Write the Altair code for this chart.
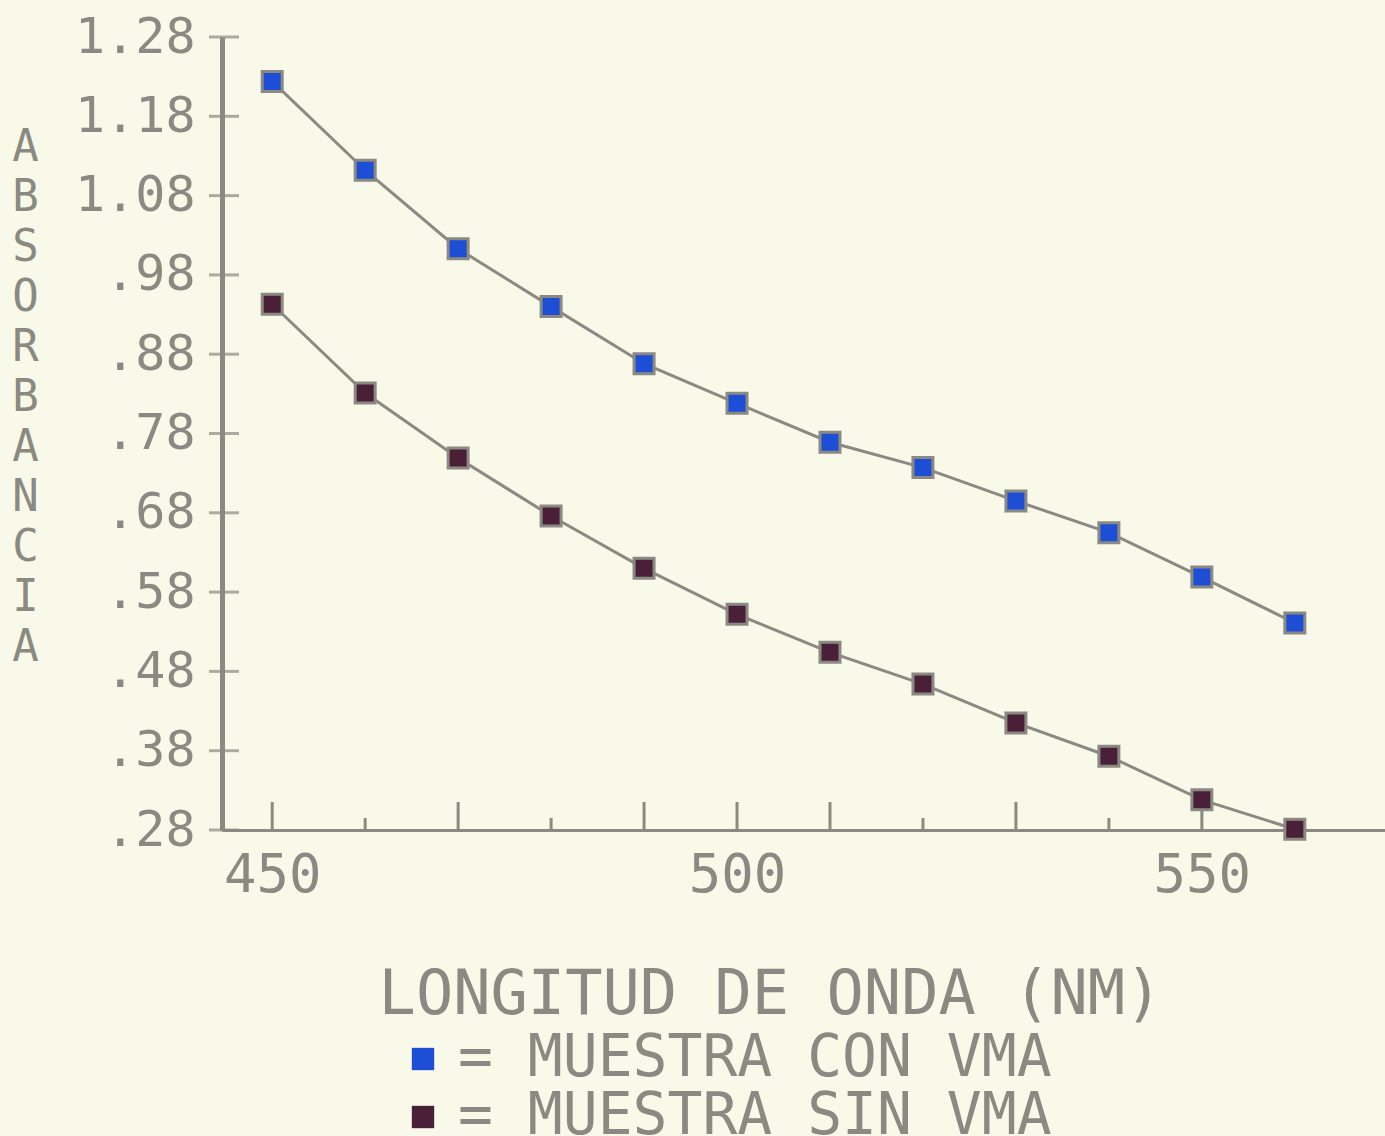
import altair as alt
import pandas as pd

wavelength = [450, 460, 470, 480, 490, 500, 510, 520, 530, 540, 550, 560]
con_vma = [1.224, 1.112, 1.013, 0.940, 0.868, 0.818, 0.769, 0.737, 0.695, 0.655, 0.599, 0.541]
sin_vma = [0.943, 0.831, 0.749, 0.676, 0.610, 0.552, 0.504, 0.464, 0.415, 0.373, 0.318, 0.281]
series_names = ["MUESTRA CON VMA", "MUESTRA SIN VMA"]
series_colors = ["#1f4ed6", "#4a2038"]

y_ticks = [0.28, 0.38, 0.48, 0.58, 0.68, 0.78, 0.88, 0.98, 1.08, 1.18, 1.28]
x_labels = [450, 500, 550]
x_major_ticks = [450, 470, 490, 500, 510, 530, 550]
x_minor_ticks = [460, 480, 520, 540]

rows = []
for w, a in zip(wavelength, con_vma):
    rows.append({"wl": w, "abs": a, "serie": series_names[0]})
for w, a in zip(wavelength, sin_vma):
    rows.append({"wl": w, "abs": a, "serie": series_names[1]})
df = pd.DataFrame(rows)

GRAY = "#8a8a82"
FONT = "DejaVu Sans Mono"
W, H = 1163, 793

xscale = alt.Scale(domain=[444.6, 569.7], nice=False, zero=False)
yscale = alt.Scale(domain=[0.28, 1.28], nice=False, zero=False)

x_enc = alt.X(
    "wl:Q", scale=xscale,
    axis=alt.Axis(
        values=x_labels, ticks=False, grid=False, labelPadding=18,
        labelFontSize=54, labelFont=FONT, labelColor=GRAY,
        domainColor=GRAY, domainWidth=3,
        title="LONGITUD DE ONDA (NM)", titleFont=FONT, titleFontSize=62,
        titleFontWeight="normal", titleColor=GRAY,
        titleX=548, titleY=134, titleAnchor="middle", titleAlign="center",
        titleBaseline="top",
    ),
)
y_enc = alt.Y(
    "abs:Q", scale=yscale,
    axis=alt.Axis(
        values=y_ticks, ticks=False, grid=False, labelPadding=27,
        labelFontSize=50, labelFont=FONT, labelColor=GRAY,
        labelExpr="datum.value >= 1 ? format(datum.value, '.2f') : replace(format(datum.value, '.2f'), '0.', '.')",
        domainColor=GRAY, domainWidth=5,
        title=list("ABSORBANCIA"), titleAngle=0, titleFont=FONT,
        titleFontSize=44, titleFontWeight="normal", titleColor=GRAY,
        titleLineHeight=50, titleX=-197, titleY=88,
        titleAlign="center", titleBaseline="top",
    ),
)

base = alt.Chart(df)

lines = base.mark_line(color=GRAY, strokeWidth=3).encode(
    x=x_enc, y=y_enc, detail="serie:N"
)

points = base.mark_point(
    shape="square", filled=True, size=400, stroke=GRAY, strokeWidth=3, opacity=1
).encode(
    x=alt.X("wl:Q", scale=xscale),
    y=alt.Y("abs:Q", scale=yscale),
    color=alt.Color(
        "serie:N",
        scale=alt.Scale(domain=series_names, range=series_colors),
        legend=alt.Legend(
            title=None, orient="none", legendX=172, legendY=993,
            symbolType="square", symbolSize=500, symbolStrokeWidth=0,
            labelFont=FONT, labelFontSize=58, labelColor=GRAY,
            labelExpr="'= ' + datum.label", labelOffset=6,
            rowPadding=-4, padding=0, labelLimit=1000,
        ),
    ),
)

ytick_df = pd.DataFrame({"v": y_ticks})
yticks = alt.Chart(ytick_df).mark_tick(
    color=GRAY, thickness=3, size=30, orient="horizontal"
).encode(y=alt.Y("v:Q", scale=yscale), x=alt.value(2))

major_df = pd.DataFrame({"v": x_major_ticks})
minor_df = pd.DataFrame({"v": x_minor_ticks})
xmajor = alt.Chart(major_df).mark_rule(color=GRAY, strokeWidth=3).encode(
    x=alt.X("v:Q", scale=xscale), y=alt.value(H - 28), y2=alt.value(H)
)
xminor = alt.Chart(minor_df).mark_rule(color=GRAY, strokeWidth=3).encode(
    x=alt.X("v:Q", scale=xscale), y=alt.value(H - 12), y2=alt.value(H)
)

chart = alt.layer(lines, yticks, xmajor, xminor, points).properties(
    width=W, height=H,
    autosize=alt.AutoSizeParams(type="none"),
    padding={"left": 222, "top": 37, "right": 0, "bottom": 306},
    background="#f9f9ea",
).configure_view(stroke=None).configure_axis(labelFontWeight="normal")

chart.save("out.html", embed_options={"renderer": "svg", "actions": False})
